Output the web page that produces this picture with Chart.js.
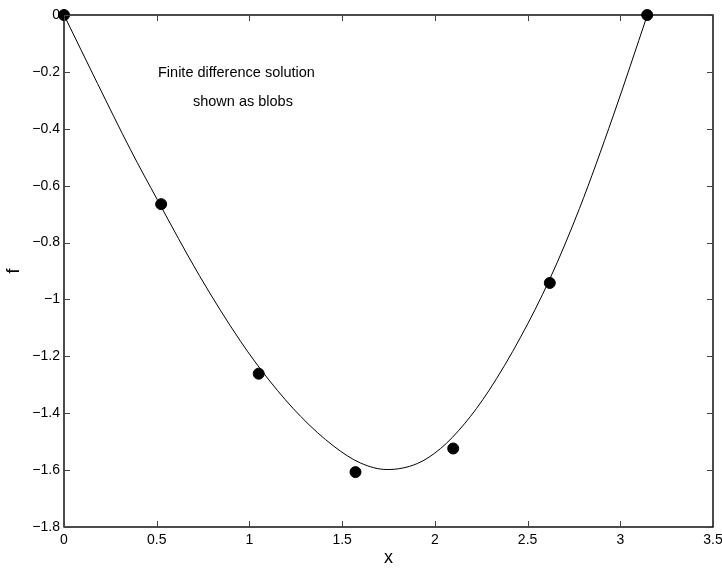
<!DOCTYPE html>
<html>
<head>
<meta charset="utf-8">
<script src="https://cdn.jsdelivr.net/npm/chart.js@4"></script>
<style>
  html, body { margin: 0; padding: 0; background: #fff; }
  #wrap { width: 722px; height: 569px; }
</style>
</head>
<body>
<div id="wrap"><canvas id="fd-chart" width="722" height="569"></canvas></div>
<script>
// exact solution
const curveX = [0, 0.18, 0.359, 0.503, 0.73, 0.952, 1.11, 1.276, 1.455, 1.599, 1.743, 1.905, 2.031, 2.16, 2.291, 2.462, 2.62, 2.78, 2.96, 3.146];
const curveF = [0, -0.24, -0.474, -0.649, -0.916, -1.147, -1.287, -1.411, -1.516, -1.575, -1.598, -1.577, -1.524, -1.437, -1.321, -1.133, -0.928, -0.68, -0.358, 0];

// finite difference solution (blobs)
const blobX = [0, 0.524, 1.05, 1.572, 2.099, 2.62, 3.145];
const blobF = [0, -0.665, -1.261, -1.607, -1.524, -0.942, 0];

const xTicks = [0, 0.5, 1, 1.5, 2, 2.5, 3, 3.5];
const yTicks = [0, -0.2, -0.4, -0.6, -0.8, -1, -1.2, -1.4, -1.6, -1.8];

const noteLines = ["Finite difference solution", "shown as blobs"];

const fmt = (v) => {
  const s = String(Math.round(v * 10) / 10);
  return s.replace("-", "\u2212");
};

// box round the plot and inward ticks on all four sides
const frame = {
  id: "frame",
  afterDraw(chart) {
    const { ctx, chartArea: a, scales } = chart;
    ctx.save();
    ctx.strokeStyle = "#000";
    ctx.lineWidth = 1.4;
    ctx.strokeRect(a.left, a.top, a.right - a.left, a.bottom - a.top);
    ctx.lineWidth = 1;
    ctx.strokeStyle = "#444";
    const t = 6;
    ctx.beginPath();
    xTicks.forEach((v) => {
      const px = Math.round(scales.x.getPixelForValue(v)) + 0.5;
      ctx.moveTo(px, a.bottom); ctx.lineTo(px, a.bottom - t);
      ctx.moveTo(px, a.top); ctx.lineTo(px, a.top + t);
    });
    yTicks.forEach((v) => {
      const py = Math.round(scales.y.getPixelForValue(v)) + 0.5;
      ctx.moveTo(a.left, py); ctx.lineTo(a.left + t, py);
      ctx.moveTo(a.right, py); ctx.lineTo(a.right - t, py);
    });
    ctx.stroke();

    // text note
    ctx.fillStyle = "#000";
    ctx.font = "14.5px 'Liberation Sans', Arial, sans-serif";
    ctx.textAlign = "center";
    ctx.textBaseline = "middle";
    ctx.fillText(noteLines[0], scales.x.getPixelForValue(0.93), scales.y.getPixelForValue(-0.205));
    ctx.fillText(noteLines[1], scales.x.getPixelForValue(0.965), scales.y.getPixelForValue(-0.305));
    ctx.restore();
  },
};

const ct = document.getElementById("fd-chart");

new Chart(ct, {
  type: "scatter",
  data: {
    datasets: [
      {
        label: "exact",
        data: curveX.map((x, i) => ({ x: x, y: curveF[i] })),
        showLine: true,
        borderColor: "#000",
        borderWidth: 1,
        pointRadius: 0,
        cubicInterpolationMode: "monotone",
        order: 2,
      },
      {
        label: "finite difference",
        data: blobX.map((x, i) => ({ x: x, y: blobF[i] })),
        showLine: false,
        clip: false,
        pointRadius: 5.5,
        pointBackgroundColor: "#000",
        pointBorderColor: "#000",
        order: 1,
      },
    ],
  },
  options: {
    responsive: false,
    animation: false,
    layout: { padding: { top: 15, right: 9, left: 3, bottom: 0 } },
    plugins: { legend: { display: false }, tooltip: { enabled: false } },
    scales: {
      x: {
        type: "linear",
        min: 0,
        max: 3.5,
        afterBuildTicks: (s) => { s.ticks = xTicks.map((v) => ({ value: v })); },
        afterFit: (s) => { s.height = 42; s.paddingLeft = 0; s.paddingRight = 0; },
        grid: { display: false, drawTicks: false },
        border: { display: false },
        ticks: {
          color: "#000",
          padding: 5,
          maxRotation: 0,
          font: { family: "'Liberation Sans', Arial, sans-serif", size: 14 },
          callback: (v) => fmt(v),
        },
        title: {
          display: true,
          text: "x",
          color: "#000",
          padding: { top: 0, bottom: 0 },
          font: { family: "'Liberation Sans', Arial, sans-serif", size: 18 },
        },
      },
      y: {
        type: "linear",
        min: -1.8,
        max: 0,
        afterBuildTicks: (s) => { s.ticks = yTicks.map((v) => ({ value: v })); },
        afterFit: (s) => { s.width = 61; },
        grid: { display: false, drawTicks: false },
        border: { display: false },
        ticks: {
          color: "#000",
          padding: 4,
          font: { family: "'Liberation Sans', Arial, sans-serif", size: 14 },
          callback: (v) => fmt(v),
        },
        title: {
          display: true,
          text: "f",
          color: "#000",
          padding: { top: 0, bottom: 0 },
          font: { family: "'Liberation Sans', Arial, sans-serif", size: 18 },
        },
      },
    },
  },
  plugins: [frame],
});
</script>
</body>
</html>
